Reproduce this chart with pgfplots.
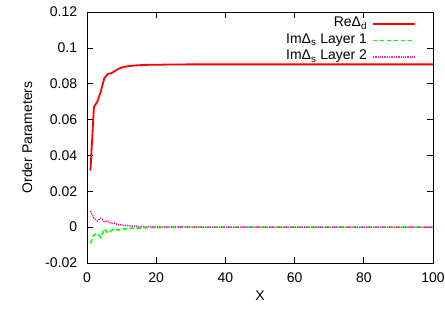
\documentclass[border=0pt]{standalone}
\usepackage{fontspec}
\setmainfont{Liberation Sans}
\usepackage{pgfplots}
\pgfplotsset{compat=1.18}
\begin{document}
\fontsize{14bp}{16bp}\selectfont
\begin{tikzpicture}[font=\fontsize{14bp}{16bp}\selectfont]
\begin{axis}[
  name=ax,
  scale only axis,
  width=346bp, height=251bp,
  xmin=0, xmax=100, ymin=-0.02, ymax=0.12,
  xtick={0,20,...,100},
  ytick={-0.02,0,0.02,0.04,0.06,0.08,0.1,0.12},
  tick align=inside,
  tick pos=both,
  major tick length=6.5bp,
  axis line style={line width=0.9bp},
  tick style={line width=0.7bp, black},
  /pgf/number format/assume math mode=true,
  ticklabel style={font=\fontsize{14bp}{16bp}\selectfont},
  yticklabel style={xshift=-5bp, /pgf/number format/fixed, /pgf/number format/precision=2},
  xticklabel style={yshift=-5bp},
  xlabel={X}, ylabel={Order Parameters},
  xlabel style={at={(axis description cs:0.5,-0.1315)}, anchor=center},
  ylabel style={at={(axis description cs:-0.1734,0.5)}, anchor=center},
  label style={font=\fontsize{14bp}{16bp}\selectfont},
  legend style={draw=none, fill=none, inner sep=0pt, at={(0.951,0.985)}, anchor=north east,
    cells={anchor=east}, row sep=0.5bp, column sep=4bp,
    nodes={inner sep=1bp, text height=10bp, text depth=4bp},
    font=\fontsize{14bp}{16bp}\selectfont},
  legend plot pos=right,
  legend image code/.code={\draw[#1] (0bp,0bp) -- (42bp,0bp);},
]
\addplot[red, line width=1.8bp] coordinates {
(1,0.0315) (2,0.0670) (3,0.0700) (4,0.0757) (5,0.0830) (6,0.0855) (7,0.0858)
(8,0.0870) (9,0.0882) (10,0.0890) (11,0.0895) (12,0.0898) (13,0.0900) (14,0.0902)
(15,0.0903) (17,0.0905) (20,0.0906) (25,0.0907) (30,0.0908) (40,0.0908)
(50,0.0908) (60,0.0908) (70,0.0908) (80,0.0908) (90,0.0908) (100,0.0908)};
\addlegendentry{ReΔ\textsubscript{d}}
\addplot[green, line width=1.6bp, dash pattern=on 4.5bp off 2.5bp] coordinates {
(1,-0.0090) (2,-0.0045) (3,-0.0035) (4,-0.0058) (5,-0.0010) (6,-0.0032)
(7,-0.0019) (8,-0.0010) (9,-0.0016) (10,-0.0009) (11,-0.0011) (12,-0.0005)
(13,-0.0007) (14,-0.0004) (15,-0.0005) (17,-0.0003) (20,-0.0002) (25,-0.0001)
(30,-0.0001) (40,0) (50,0) (60,0) (70,0) (80,0) (90,0) (100,0)};
\addlegendentry{ImΔ\textsubscript{s} Layer 1}
\addplot[magenta!85, line width=1.5bp, dash pattern=on 1.3bp off 1bp] coordinates {
(1,0.0090) (2,0.0050) (3,0.0035) (4,0.0050) (5,0.0030) (6,0.0035) (7,0.0020)
(8,0.0023) (9,0.0013) (10,0.0012) (11,0.0008) (12,0.0009) (13,0.0005)
(14,0.0006) (15,0.0004) (17,0.0003) (20,0.0002) (25,0.0001) (30,0.0001)
(40,0) (50,0) (60,0) (70,0) (80,0) (90,0) (100,0)};
\addlegendentry{ImΔ\textsubscript{s} Layer 2}
\end{axis}
\pgfresetboundingbox
\path ([xshift=-87bp,yshift=-47bp]ax.south west) rectangle ([xshift=12bp,yshift=12bp]ax.north east);
\end{tikzpicture}
\end{document}
